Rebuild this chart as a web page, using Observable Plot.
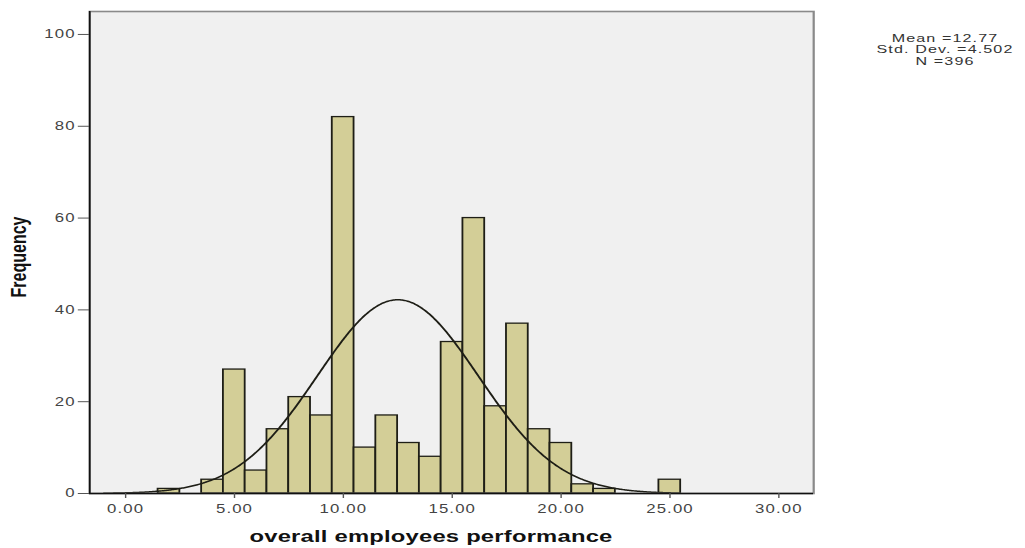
<!DOCTYPE html>
<html>
<head>
<meta charset="utf-8">
<script src="https://cdn.jsdelivr.net/npm/d3@7"></script>
<script src="https://cdn.jsdelivr.net/npm/@observablehq/plot@0.6"></script>
<style>
  html, body { margin: 0; padding: 0; background: #ffffff; }
  #chart { width: 1025px; height: 548px; overflow: hidden; }
</style>
</head>
<body>
<div id="chart"></div>
<script>
// ---- data ----
const binCenters = [2, 3, 4, 5, 6, 7, 8, 9, 10, 11, 12, 13, 14, 15, 16, 17, 18, 19, 20, 21, 22, 23, 24, 25];
const binCounts  = [1, 0, 3, 27, 5, 14, 21, 17, 82, 10, 17, 11, 8, 33, 60, 19, 37, 14, 11, 2, 1, 0, 0, 3];
const binWidth = 1;
const xTicks = [0, 5, 10, 15, 20, 25, 30];
const yTicks = [0, 20, 40, 60, 80, 100];
const statLines = ["Mean =12.77", "Std. Dev. =4.502", "N =396"];
const xLabel = "overall employees performance";
const yLabel = "Frequency";
// normal curve as drawn in the picture (centre, spread, peak height)
const curveCentre = 12.5, curveSpread = 3.7, curvePeak = 42.2, curveFrom = -1, curveTo = 25;

// ---- build tables ----
const bins = binCenters.map((c, i) => ({c, n: binCounts[i]})).filter(d => d.n > 0);
const curvePts = d3.range(curveFrom, curveTo + 0.001, 0.05).map(x => ({
  x, y: curvePeak * Math.exp(-0.5 * ((x - curveCentre) / curveSpread) ** 2)
}));

// the reference is horizontally stretched; draw narrower and stretch the SVG
const S = 1.4;
const W = 1025 / S, H = 548;
const xDomain = [-1.65, 31.6];

const svg = Plot.plot({
  width: W, height: H,
  marginLeft: 89 / S, marginRight: 212 / S, marginTop: 11, marginBottom: 55,
  style: {background: "transparent", fontFamily: "'Liberation Sans', Arial, sans-serif", color: "#444"},
  x: {domain: xDomain},
  y: {domain: [0, 105]},
  marks: [
    Plot.frame({fill: "#f0f0f0", stroke: null}),
    Plot.rectY(bins, {x1: d => d.c - binWidth / 2, x2: d => d.c + binWidth / 2, y: "n",
      fill: "#d3ce97", stroke: "#1e1e16", strokeWidth: 1.3}),
    Plot.line(curvePts, {x: "x", y: "y", stroke: "#1e1e16", strokeWidth: 1.5}),
    Plot.frame({stroke: "#8a8a8a", strokeWidth: 1.6}),
    Plot.ruleX([xDomain[0]], {stroke: "#111", strokeWidth: 1.2}),
    Plot.ruleY([0], {stroke: "#111", strokeWidth: 1.4}),
    Plot.axisX({ticks: xTicks, tickFormat: d3.format(".2f"), tickSize: 5, tickPadding: 6,
      label: null, fontSize: 12, stroke: "#555"}),
    Plot.axisY({ticks: yTicks, tickSize: 8, tickPadding: 2, label: null, fontSize: 12, stroke: "#555"})
  ]
});

const s = d3.select(svg);
s.selectAll("g[aria-label='x-axis tick label'] text, g[aria-label='y-axis tick label'] text")
  .attr("letter-spacing", 0.8);
s.append("text")
  .attr("transform", `translate(${20 / S},257) rotate(-90)`)
  .attr("text-anchor", "middle").attr("dominant-baseline", "middle")
  .attr("font-weight", "bold").attr("font-size", 16).attr("fill", "#111")
  .text(yLabel);
s.append("text")
  .attr("x", 431 / S).attr("y", 542)
  .attr("text-anchor", "middle")
  .attr("font-weight", "bold").attr("font-size", 17).attr("fill", "#111")
  .attr("letter-spacing", 0.15)
  .text(xLabel);
s.append("g").selectAll("text").data(statLines).join("text")
  .attr("x", 945 / S).attr("y", (d, i) => 39 + i * 11.3)
  .attr("text-anchor", "middle").attr("dominant-baseline", "middle")
  .attr("font-size", 11.5).attr("fill", "#333").attr("letter-spacing", 0.8)
  .text(d => d);

svg.setAttribute("width", 1025);
svg.setAttribute("height", 548);
svg.setAttribute("preserveAspectRatio", "none");
svg.style.width = "1025px";
svg.style.height = "548px";
svg.style.maxWidth = "none";
document.getElementById("chart").appendChild(svg);
</script>
</body>
</html>
